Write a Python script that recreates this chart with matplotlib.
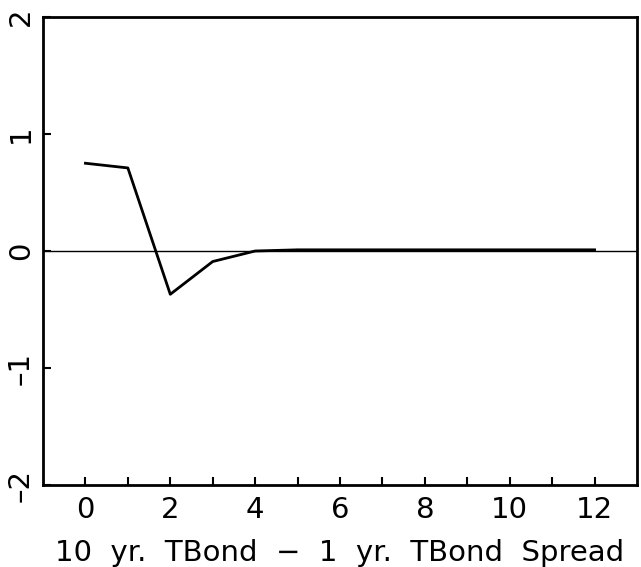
import numpy as np
import matplotlib.pyplot as plt

# Impulse response values
horizon = [0, 1, 2, 3, 4, 5, 6, 7, 8, 9, 10, 11, 12]
response = [0.75, 0.71, -0.37, -0.09, 0.0, 0.01, 0.01, 0.01, 0.01, 0.01, 0.01, 0.01, 0.01]

x_ticks = [0, 2, 4, 6, 8, 10, 12]
y_ticks = [-2, -1, 0, 1, 2]
x_label = '10  yr.  TBond  \u2212  1  yr.  TBond  Spread'

plt.rcParams['font.family'] = ['DejaVu Sans']

fig = plt.figure(figsize=(6.41, 5.67), dpi=100)
ax = fig.add_axes([43 / 641, 1 - 485 / 567, 594 / 641, 468 / 567])

ax.axhline(0, color='black', linewidth=1.0)
ax.plot(horizon, response, color='black', linewidth=2.0)

ax.set_xlim(-1, 13)
ax.set_ylim(-2, 2)
ax.set_xticks(x_ticks)
ax.set_xticks(range(0, 13), minor=True)
ax.set_yticks(y_ticks)
ax.set_yticklabels([str(v).replace('-', '\u2013') for v in y_ticks],
                   rotation=90, va='center')
ax.tick_params(axis='both', which='both', direction='in', length=6, width=1.5,
               labelsize=21, top=False, right=False)
ax.tick_params(axis='x', pad=8)
ax.tick_params(axis='y', pad=6)

for s in ax.spines.values():
    s.set_linewidth(2)

ax.set_xlabel(x_label, fontsize=21, labelpad=9)
ax.xaxis.set_label_coords(0.5, -0.1)
ax.xaxis.label.set_va('top')
ax.xaxis.label.set_y(-0.115)

fig.savefig('out.png', dpi=100)
